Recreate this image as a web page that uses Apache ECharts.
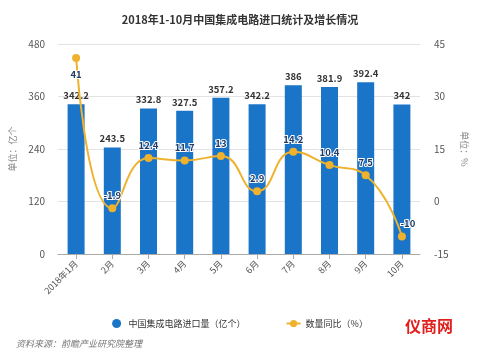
<!DOCTYPE html>
<html><head><meta charset="utf-8">
<script src="https://cdn.jsdelivr.net/npm/echarts@6/dist/echarts.min.js"></script>
<style>html,body{margin:0;padding:0;background:#fff}#c{width:480px;height:360px}</style>
</head><body><div id="c"></div>
<script>
var categories = ['2018年1月','2月','3月','4月','5月','6月','7月','8月','9月','10月'];
var importVolume = [342.2, 243.5, 332.8, 327.5, 357.2, 342.2, 386, 381.9, 392.4, 342];
var yoyGrowth = [41, -1.9, 12.4, 11.7, 13, 2.9, 14.2, 10.4, 7.5, -10];
var leftTicks = [0, 120, 240, 360, 480];
var rightTicks = [-15, 0, 15, 30, 45];

var font = '"Microsoft YaHei","Noto Sans CJK SC",sans-serif';
var chart = echarts.init(document.getElementById('c'));
var lineData = yoyGrowth.map(function(v, i){
  var d = {value: v};
  if (i === 0) d.label = {position: 'bottom', distance: 8};
  if (i === yoyGrowth.length - 1) d.label = {position: 'top', offset: [6, 0]};
  return d;
});
chart.setOption({
  animation: false,
  textStyle: {fontFamily: font},
  title: {text: '2018年1-10月中国集成电路进口统计及增长情况', left: 'center', top: 9,
    textStyle: {fontSize: 11, fontWeight: 'bold', color: '#333', fontFamily: font}},
  grid: {left: 58, right: 60, top: 44, bottom: 106},
  legend: {bottom: 27, left: 'center', itemGap: 40, itemWidth: 14, itemHeight: 9,
    textStyle: {fontSize: 9, color: '#333'},
    data: [{name: '中国集成电路进口量（亿个）', icon: 'circle'}, {name: '数量同比（%）'}]},
  xAxis: {type: 'category', data: categories,
    axisLine: {lineStyle: {color: '#aaa'}}, axisTick: {show: true, alignWithLabel: true, lineStyle: {color: '#aaa'}},
    axisLabel: {rotate: 45, fontSize: 9, color: '#555', margin: 8, interval: 0}},
  yAxis: [
    {type: 'value', min: leftTicks[0], max: leftTicks[leftTicks.length-1], interval: 120,
     name: '单位：亿个', nameLocation: 'middle', nameGap: 36, nameRotate: 90,
     nameTextStyle: {fontSize: 9, color: '#888'},
     axisLine: {show: false}, axisTick: {show: false},
     axisLabel: {fontSize: 10, color: '#555', margin: 13},
     splitLine: {lineStyle: {color: '#e3e3e3'}}},
    {type: 'value', min: rightTicks[0], max: rightTicks[rightTicks.length-1], interval: 15,
     name: '单位：%', nameLocation: 'middle', nameGap: 38, nameRotate: -90,
     nameTextStyle: {fontSize: 9, color: '#888'},
     axisLine: {show: false}, axisTick: {show: false},
     axisLabel: {fontSize: 10, color: '#555', margin: 14},
     splitLine: {show: false}}
  ],
  series: [
    {name: '中国集成电路进口量（亿个）', type: 'bar', data: importVolume, barWidth: 17,
     itemStyle: {color: '#1a74c8'},
     label: {show: true, position: 'top', fontSize: 9.5, fontWeight: 'bold', color: '#333', distance: 4}},
    {name: '数量同比（%）', type: 'line', yAxisIndex: 1, data: lineData, smooth: true,
     symbol: 'circle', symbolSize: 8,
     lineStyle: {color: '#eeb22e', width: 2}, itemStyle: {color: '#eeb22e'},
     label: {show: true, position: 'top', fontSize: 9.5, fontWeight: 'bold', color: '#1f3b66',
       textBorderColor: '#fff', textBorderWidth: 2, distance: 4}}
  ],
  graphic: [
    {type: 'text', left: 16, top: 339, style: {text: '资料来源：前瞻产业研究院整理', fontSize: 9, fontStyle: 'italic', fill: '#777', fontFamily: font}},
    {type: 'text', left: 405, top: 318, style: {text: '仪商网', fontSize: 16, fontWeight: 'bold', fill: '#e0201d', fontFamily: font}}
  ]
});
</script></body></html>
